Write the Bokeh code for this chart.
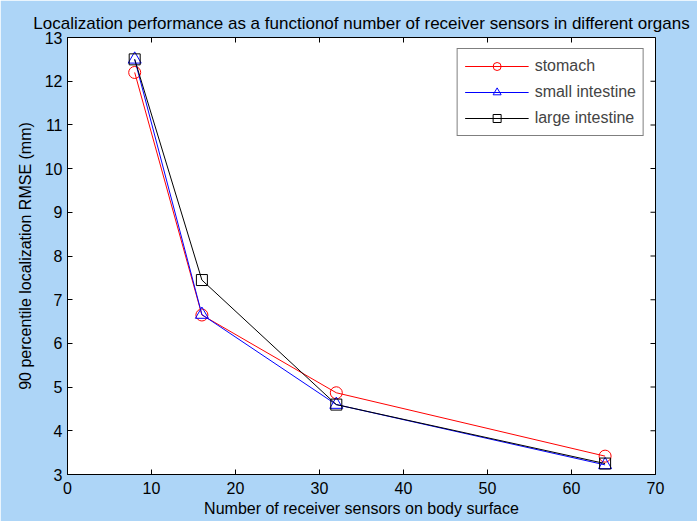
from bokeh.plotting import figure
from bokeh.models import FixedTicker, Legend, LegendItem, Range1d
from bokeh.embed import file_html
from bokeh.resources import INLINE

sensors = [8, 16, 32, 64]
stomach = [12.2, 6.65, 4.87, 3.42]
small_intestine = [12.5, 6.66, 4.6, 3.22]
large_intestine = [12.5, 7.45, 4.6, 3.25]
x_ticks = [0, 10, 20, 30, 40, 50, 60, 70]
y_ticks = [3, 4, 5, 6, 7, 8, 9, 10, 11, 12, 13]

BG = "#ADD5F7"
FONT = "Liberation Sans"
X_MIN, X_MAX = 0, 70
Y_MIN, Y_MAX = 3, 13

p = figure(width=697, height=521, output_backend="svg", toolbar_location=None,
           x_range=Range1d(X_MIN, X_MAX), y_range=Range1d(Y_MIN, Y_MAX),
           min_border_left=67, min_border_right=42, min_border_top=37, min_border_bottom=47)
p.background_fill_color = "white"
p.border_fill_color = BG
p.outline_line_color = "black"
p.outline_line_width = 1
p.grid.visible = False

p.title.text = "Localization performance as a functionof number of receiver sensors in different organs"
p.title.align = "center"
p.title.text_font = FONT
p.title.text_font_size = "17px"
p.title.text_font_style = "normal"
p.title.text_color = "black"
p.title.standoff = 10

for ax in [p.xaxis[0], p.yaxis[0]]:
    ax.major_tick_in = 5
    ax.major_tick_out = 0
    ax.minor_tick_line_color = None
    ax.major_label_text_font = FONT
    ax.major_label_text_font_size = "16px"
    ax.major_label_text_color = "black"
    ax.axis_label_text_font = FONT
    ax.axis_label_text_font_size = "16px"
    ax.axis_label_text_font_style = "normal"
    ax.axis_label_text_color = "black"
p.xaxis[0].ticker = FixedTicker(ticks=x_ticks)
p.yaxis[0].ticker = FixedTicker(ticks=y_ticks)
p.xaxis[0].axis_label = "Number of receiver sensors on body surface"
p.yaxis[0].axis_label = "90 percentile localization RMSE (mm)"
p.xaxis[0].major_label_standoff = 7
p.yaxis[0].major_label_standoff = 5
p.xaxis[0].axis_label_standoff = 3
p.yaxis[0].axis_label_standoff = 8

# inward ticks on top and right edges of the box (clipped to frame)
p.rect(x=x_ticks, y=[Y_MAX] * len(x_ticks), width=1, height=10,
       width_units="screen", height_units="screen", fill_color="black", line_color=None)
p.rect(x=[X_MAX] * len(y_ticks), y=y_ticks, width=10, height=1,
       width_units="screen", height_units="screen", fill_color="black", line_color=None)

l1 = p.line(sensors, stomach, line_color="#FF0000", line_width=1)
s1 = p.scatter(sensors, stomach, marker="circle", size=12, fill_color=None, line_color="#FF0000")
l2 = p.line(sensors, small_intestine, line_color="#0000FF", line_width=1)
s2 = p.scatter(sensors, small_intestine, marker="triangle", size=13, fill_color=None, line_color="#0000FF")
l3 = p.line(sensors, large_intestine, line_color="black", line_width=1)
s3 = p.scatter(sensors, large_intestine, marker="square", size=11, fill_color=None, line_color="black")

legend = Legend(items=[
    LegendItem(label="stomach", renderers=[l1, s1]),
    LegendItem(label="small intestine", renderers=[l2, s2]),
    LegendItem(label="large intestine", renderers=[l3, s3]),
], location="top_right")
legend.label_text_font = FONT
legend.label_text_font_size = "16px"
legend.glyph_width = 64
legend.glyph_height = 20
legend.label_height = 20
legend.label_standoff = 6
legend.spacing = 6
legend.padding = 7
legend.margin = 11
legend.border_line_color = "black"
legend.border_line_width = 1
legend.background_fill_color = "white"
legend.background_fill_alpha = 1
p.add_layout(legend)

open("out.html", "w").write(file_html(p, INLINE))
